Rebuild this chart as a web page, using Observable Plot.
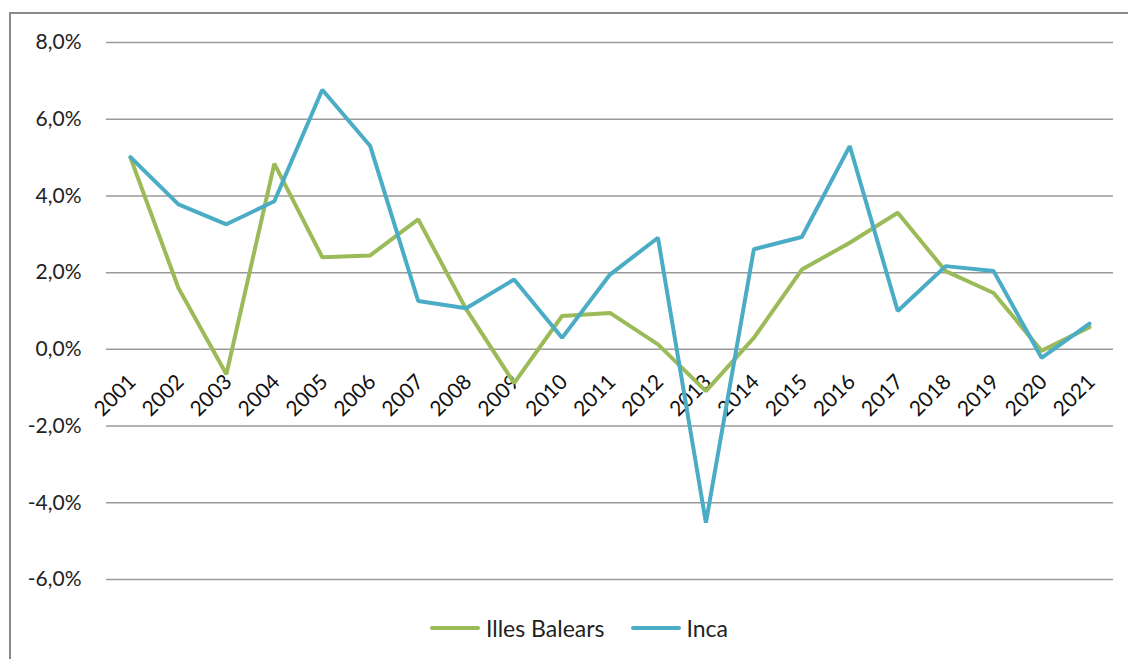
<!DOCTYPE html>
<html>
<head>
<meta charset="utf-8">
<script src="https://cdn.jsdelivr.net/npm/d3@7"></script>
<script src="https://cdn.jsdelivr.net/npm/@observablehq/plot@0.6"></script>
<style>
  html, body { margin: 0; padding: 0; background: #fff; overflow: hidden; }
  #wrap { position: relative; width: 1128px; height: 659px; overflow: hidden; font-family: Lato, "Open Sans", sans-serif; }
  #frame { position: absolute; left: 9px; top: 12px; width: 1200px; height: 700px; border-left: 2px solid #8a8a8a; border-top: 2px solid #8a8a8a; box-sizing: border-box; }
  #chart { position: absolute; left: 0; top: 0; }
  #legend { position: absolute; left: 430px; top: 614px; display: flex; align-items: center; font-size: 23px; color: #222; }
  .sw { display: inline-block; width: 50px; height: 4px; border-radius: 2px; margin-right: 6px; }
  .item { display: flex; align-items: center; margin-right: 26px; }
</style>
</head>
<body>
<div id="wrap">
  <div id="frame"></div>
  <div id="chart"></div>
  <div id="legend"></div>
</div>
<script>
// Annual growth rate (%) for the Balearic Islands and Inca, 2001–2021
const years = ["2001","2002","2003","2004","2005","2006","2007","2008","2009","2010","2011",
               "2012","2013","2014","2015","2016","2017","2018","2019","2020","2021"];
const illesBalears = [5.0, 1.6, -0.65, 4.84, 2.40, 2.45, 3.39, 1.05, -0.88, 0.87, 0.95,
                      0.13, -1.09, 0.30, 2.08, 2.78, 3.56, 2.04, 1.47, -0.04, 0.58];
const inca = [5.01, 3.78, 3.26, 3.86, 6.77, 5.30, 1.26, 1.07, 1.82, 0.30, 1.95,
              2.91, -4.52, 2.61, 2.93, 5.30, 1.00, 2.17, 2.04, -0.22, 0.67];
const seriesNames = ["Illes Balears", "Inca"];
const seriesColors = ["#9bbb59", "#4bacc6"];
const yTicks = [-6, -4, -2, 0, 2, 4, 6, 8];

const rows = [
  ...years.map((year, i) => ({year, value: illesBalears[i], series: seriesNames[0]})),
  ...years.map((year, i) => ({year, value: inca[i], series: seriesNames[1]}))
];

const fmt = d => d.toFixed(1).replace(".", ",") + "%";

const chart = Plot.plot({
  width: 1128,
  height: 600,
  marginLeft: 106,
  marginRight: 15,
  marginTop: 42,
  marginBottom: 21,
  style: {fontFamily: "Lato, 'Open Sans', sans-serif", fontSize: "21px", color: "#222", background: "transparent"},
  x: {type: "point", domain: years, padding: 0.5, round: false, axis: null},
  y: {domain: [-6, 8], axis: null},
  color: {domain: seriesNames, range: seriesColors},
  marks: [
    Plot.gridY(yTicks, {stroke: "#9a9a9a", strokeOpacity: 1, strokeWidth: 1.5}),
    Plot.axisY(yTicks, {tickSize: 0, tickPadding: 25, tickFormat: fmt, label: null, fontSize: 21, fill: "#222"}),
    Plot.text(years, {x: d => d, y: () => 0, text: d => d, rotate: -45, textAnchor: "end",
                      dx: 2, dy: 29, fontSize: 21, fill: "#111"}),
    Plot.line(rows, {x: "year", y: "value", stroke: "series", z: "series", strokeWidth: 4,
                     strokeLinejoin: "miter", strokeLinecap: "round"})
  ]
});
document.getElementById("chart").appendChild(chart);

const legend = document.getElementById("legend");
seriesNames.forEach((name, i) => {
  const item = document.createElement("div");
  item.className = "item";
  const sw = document.createElement("span");
  sw.className = "sw";
  sw.style.background = seriesColors[i];
  item.appendChild(sw);
  item.appendChild(document.createTextNode(name));
  legend.appendChild(item);
});
</script>
</body>
</html>
